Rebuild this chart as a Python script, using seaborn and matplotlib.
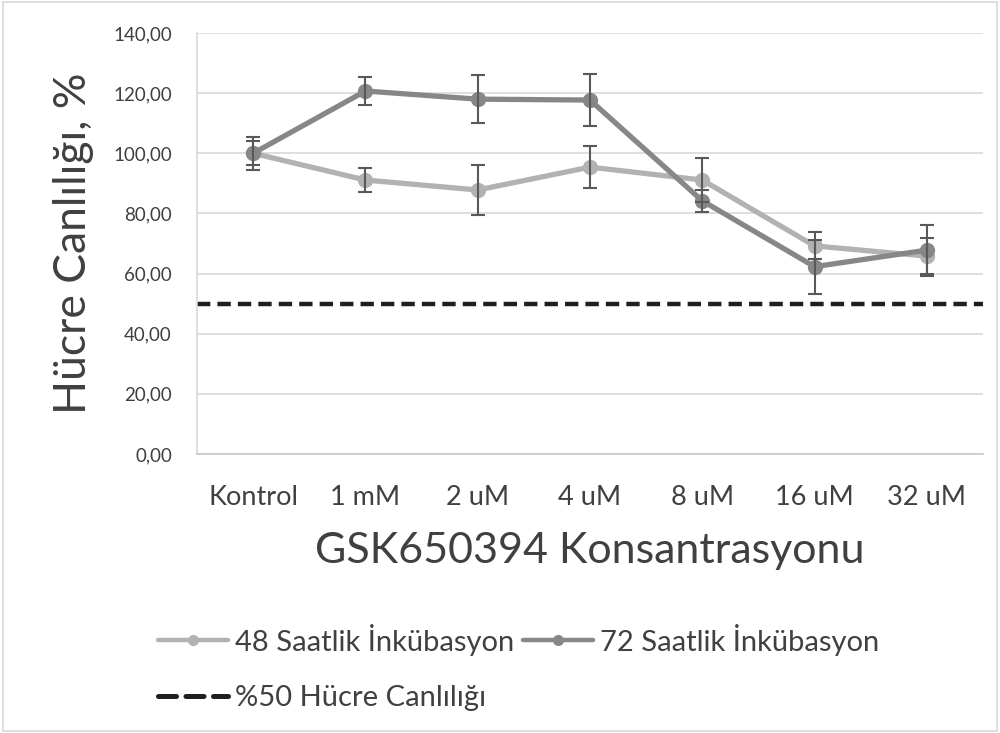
import matplotlib
matplotlib.use("Agg")
import matplotlib.pyplot as plt
import seaborn as sns
import pandas as pd
import numpy as np
from matplotlib.ticker import FuncFormatter, FixedLocator
from matplotlib.patches import Rectangle
from matplotlib.lines import Line2D

categories = ["Kontrol", "1 mM", "2 uM", "4 uM", "8 uM", "16 uM", "32 uM"]
series_names = ["48 Saatlik İnkübasyon", "72 Saatlik İnkübasyon"]
values_48 = [100.0, 91.1, 87.8, 95.4, 91.1, 69.2, 65.8]
err_48 = [4.0, 4.1, 8.4, 7.0, 7.4, 4.5, 6.0]
values_72 = [100.0, 120.7, 118.0, 117.7, 84.2, 62.3, 67.8]
err_72 = [5.5, 4.6, 7.9, 8.6, 3.7, 9.0, 8.5]
threshold = 50.0
threshold_label = "%50 Hücre Canlılığı"
y_ticks = [0, 20, 40, 60, 80, 100, 120, 140]

sns.set_style("white")
plt.rcParams["font.family"] = ["Lato", "DejaVu Sans"]

df = pd.DataFrame({
    "pos": list(range(len(categories))) * 2,
    "value": values_48 + values_72,
    "err": err_48 + err_72,
    "series": [series_names[0]] * len(categories) + [series_names[1]] * len(categories),
})
palette = {series_names[0]: "#b2b2b2", series_names[1]: "#878787"}
text_color = "#404040"

fig = plt.figure(figsize=(10, 7.33), dpi=100)
ax = fig.add_axes([0.197, 0.3806, 0.786, 0.5744])

for name in series_names:
    sub = df[df["series"] == name]
    ax.errorbar(sub["pos"], sub["value"], yerr=sub["err"], fmt="none",
                ecolor="#595959", elinewidth=1.5, capsize=5, capthick=1.5, zorder=4)

sns.lineplot(data=df, x="pos", y="value", hue="series", palette=palette,
             marker="o", markersize=11, markeredgewidth=0, linewidth=3.8,
             ax=ax, legend=False, zorder=3)
ax.axhline(threshold, color="#1f1f1f", linewidth=3.2, linestyle=(0, (3, 1.6)), zorder=2)

ax.set_xlim(-0.5, len(categories) - 0.5)
ax.set_ylim(0, 140)
ax.yaxis.set_major_locator(FixedLocator(y_ticks))
ax.yaxis.set_major_formatter(FuncFormatter(lambda v, p: f"{v:.2f}".replace(".", ",")))
ax.grid(axis="y", color="#d9d9d9", linewidth=1.2)
ax.set_axisbelow(True)

ax.set_xticks(range(len(categories)))
ax.set_xticklabels(categories, fontsize=19.5, color=text_color)
ax.set_xticks(np.arange(-0.5, len(categories), 1.0), minor=True)
ax.tick_params(axis="x", which="major", length=0, pad=22)
ax.tick_params(axis="x", which="minor", length=7, width=1.2, color="#d0d0d0", direction="out")
ax.tick_params(axis="y", length=6, width=1.2, color="#d9d9d9", labelsize=13.5,
               labelcolor=text_color, pad=12)

for s in ["top", "right"]:
    ax.spines[s].set_visible(False)
ax.spines["left"].set_color("#d9d9d9")
ax.spines["left"].set_linewidth(1.2)
ax.spines["bottom"].set_color("#c8c8c8")
ax.spines["bottom"].set_linewidth(1.2)

ax.set_xlabel("GSK650394 Konsantrasyonu", fontsize=31, color=text_color, labelpad=16)
ax.set_ylabel("Hücre Canlılığı, %", fontsize=32, color=text_color, labelpad=14)

h48 = Line2D([], [], color=palette[series_names[0]], linewidth=3.2, marker="o", markersize=8, markeredgewidth=0)
h72 = Line2D([], [], color=palette[series_names[1]], linewidth=3.2, marker="o", markersize=8, markeredgewidth=0)
hth = Line2D([], [], color="#1f1f1f", linewidth=3.6, linestyle=(0, (3.6, 1.9)), dash_capstyle="round")
fig.legend([h48, hth, h72], [series_names[0], threshold_label, series_names[1]],
           ncol=2, loc="upper left", bbox_to_anchor=(0.143, 0.169),
           borderpad=0, frameon=False, fontsize=21, labelcolor=text_color, handlelength=2.4,
           handletextpad=0.25, columnspacing=0.3, labelspacing=1.0)

fig.patches.append(Rectangle((0.003, 0.003), 0.994, 0.994, transform=fig.transFigure,
                             fill=False, edgecolor="#d9d9d9", linewidth=1.2))

fig.savefig("out.png", dpi=100)
